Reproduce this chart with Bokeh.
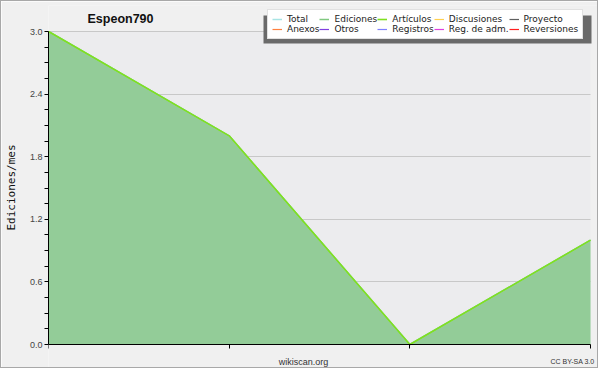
import numpy as np
from bokeh.plotting import figure
from bokeh.models import (Range1d, FixedTicker, PrintfTickFormatter, Legend, LegendItem,
                          Label, BoxAnnotation)
from bokeh.embed import file_html
from bokeh.resources import INLINE

# ---- data ----
months = [0, 1, 2, 3]
total = [3, 2, 0, 1]
ediciones = [3, 2, 0, 1]
articulos = [3, 2, 0, 1]
no_data = [np.nan, np.nan, np.nan, np.nan]   # series with nothing to draw
y_ticks = [0.0, 0.6, 1.2, 1.8, 2.4, 3.0]
y_minor = [0.15, 0.3, 0.45, 0.75, 0.9, 1.05, 1.35, 1.5, 1.65, 1.95, 2.1, 2.25, 2.55, 2.7, 2.85]
x_ticks = [0, 1, 2, 3]
series_names = ["Total", "Ediciones", "Artículos", "Discusiones", "Proyecto",
                "Anexos", "Otros", "Registros", "Reg. de adm.", "Reversiones"]
series_colors = ["#a8e4e4", "#80c880", "#c8ec50", "#ffd050", "#606060",
                 "#ff8040", "#8040e0", "#8080ff", "#e040e0", "#ff2020"]

# ---- layout (pixels, window coordinates; canvas sits 1px in for the border) ----
OFF = 1
W, H = 600 - 2 * OFF, 370 - 2 * OFF
BL, BR, BT, BB = 46 - OFF, 0, 4, 0
# where the data box (0..3 x 0..3) should sit in the window
DX0, DX1 = 46, 590
DY_TOP, DY_BOT = 31, 344
xs = (DX1 - DX0) / 3.0
ys = (DY_BOT - DY_TOP) / 3.0
x_end = 3 + ((W + OFF - BR) - DX1) / xs
y_start = -((H + OFF - BB) - DY_BOT) / ys
y_end = 3 + (DY_TOP - (BT + OFF)) / ys


def sx(wx):  # window x -> screen x from frame left
    return wx - OFF - BL


def sy(wy):  # window y -> screen y from frame bottom
    return (H - BB) - (wy - OFF)


p = figure(width=W, height=H, output_backend="svg", toolbar_location=None,
           x_range=Range1d(0, x_end), y_range=Range1d(y_start, y_end),
           x_axis_location="above",
           min_border_left=BL, min_border_right=BR, min_border_top=BT, min_border_bottom=BB)
p.styles = {"border": "1px solid #a8a8a8"}
p.border_fill_color = "#f0f0f0"
p.background_fill_color = "#f0f0f0"
p.outline_line_color = None

# plot-area background
p.add_layout(BoxAnnotation(left=0, right=3, bottom=0, top=3, fill_color="#ececee",
                           fill_alpha=1.0, line_color=None, level="image"))

# grid
p.xgrid.grid_line_color = None
g = p.ygrid[0]
g.grid_line_color = "#c8c8c8"
g.ticker = FixedTicker(ticks=y_ticks)
if "cross_bounds" in g.properties():
    g.cross_bounds = (0, 3)

# axes
ya = p.yaxis[0]
ya.ticker = FixedTicker(ticks=y_ticks, minor_ticks=y_minor)
ya.formatter = PrintfTickFormatter(format="%.1f")
ya.bounds = (0, 3)
ya.major_label_text_font = "Liberation Sans"
ya.major_label_text_font_size = "9px"
ya.major_label_text_color = "#444444"
ya.major_label_standoff = 2
ya.major_tick_out = 4
ya.major_tick_in = 0
ya.minor_tick_out = 4
ya.minor_tick_in = 0
ya.axis_label = "Ediciones/mes"
ya.axis_label_text_font = "DejaVu Sans Mono"
ya.axis_label_text_font_size = "11px"
ya.axis_label_text_font_style = "normal"
ya.axis_label_text_color = "#111111"
ya.axis_label_standoff = 9

xa = p.xaxis[0]
xa.fixed_location = 0
xa.bounds = (0, 3)
xa.ticker = FixedTicker(ticks=x_ticks)
xa.major_label_text_font_size = "0px"
xa.major_label_standoff = 0
xa.major_tick_out = 0
xa.major_tick_in = 4
xa.minor_tick_line_color = None
for ax in (xa, ya):
    ax.axis_line_color = "black"
    ax.major_tick_line_color = "black"
ya.minor_tick_line_color = "black"

# data marks
p.varea(x=months, y1=0, y2=ediciones, fill_color="#93cc98", fill_alpha=1.0)
renderers = {}
renderers["Total"] = p.line(months, total, line_color=series_colors[0], line_width=1.5)
renderers["Ediciones"] = p.line(months, ediciones, line_color=series_colors[1], line_width=1.5)
renderers["Artículos"] = p.line(months, articulos, line_color="#80e020", line_width=1.6)
for name, col in zip(series_names, series_colors):
    if name not in renderers:
        renderers[name] = p.line(months, no_data, line_color=col, line_width=1.2)

# legend box position (window px): left edge and bottom edge; shadow offset (-4, +4)
LG_LEFT, LG_BOTTOM = 265, 39
SH_W, SH_H = 328, 28
lx, ly = sx(LG_LEFT), sy(LG_BOTTOM)
shadow = BoxAnnotation(left=lx - 4, right=lx - 4 + SH_W, bottom=ly - 4, top=ly - 4 + SH_H,
                       left_units="screen", right_units="screen",
                       bottom_units="screen", top_units="screen",
                       fill_color="#6a6a6a", fill_alpha=1.0, line_color=None)
p.add_layout(shadow)

order = []
for c in range(5):
    order.append(series_names[c])
    order.append(series_names[c + 5])
items = [LegendItem(label=n, renderers=[renderers[n]]) for n in order]
legend = Legend(items=items, orientation="vertical", nrows=2,
                location=(lx, ly),
                label_text_font="DejaVu Sans", label_text_font_size="9px",
                label_text_color="#222222",
                label_height=8, glyph_height=8, glyph_width=10, label_width=10,
                label_standoff=5, spacing=-1, padding=4, margin=0,
                border_line_color="#c4c4c4", background_fill_color="white",
                background_fill_alpha=1.0)
p.add_layout(legend)

# title and footer texts
p.add_layout(Label(x=sx(85), y=sy(18.5), x_units="screen", y_units="screen",
                   text="Espeon790", text_font="Liberation Sans", text_font_style="bold",
                   text_font_size="12.5px", text_color="#111111", text_baseline="alphabetic"))
p.add_layout(Label(x=sx(301), y=sy(361), x_units="screen", y_units="screen",
                   text="wikiscan.org", text_font="Liberation Sans", text_font_size="9px",
                   text_color="#333333", text_align="center", text_baseline="middle"))
p.add_layout(Label(x=sx(592), y=sy(361), x_units="screen", y_units="screen",
                   text="CC BY-SA 3.0", text_font="Liberation Sans", text_font_size="7px",
                   text_color="#333333", text_align="right", text_baseline="middle"))

open("out.html", "w").write(file_html(p, INLINE))
